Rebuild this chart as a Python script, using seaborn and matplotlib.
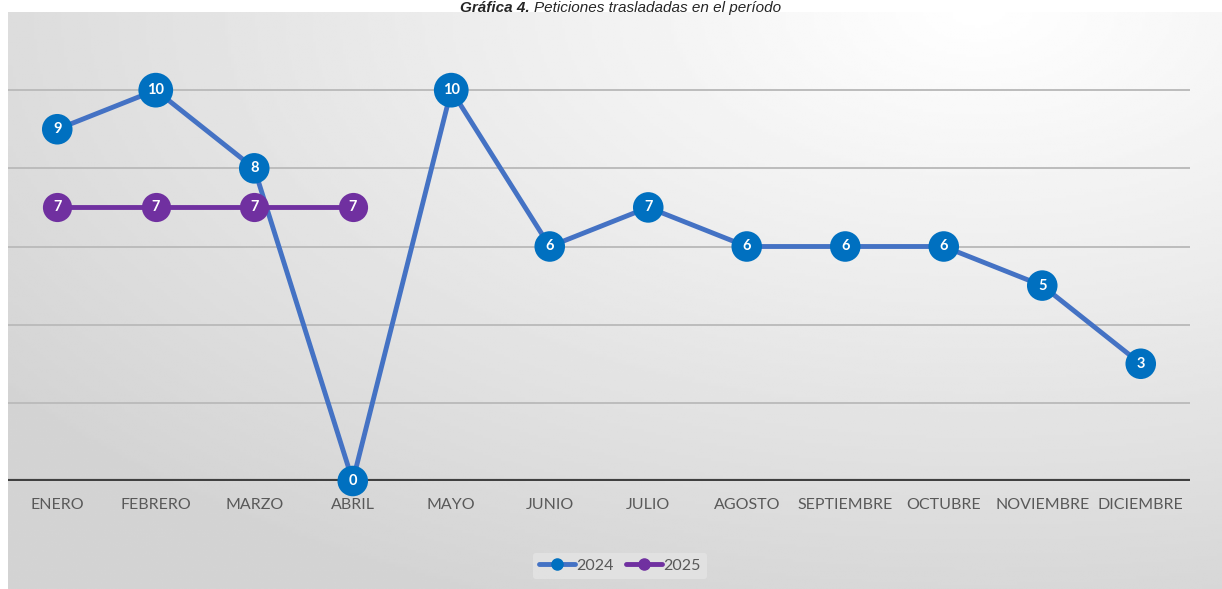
import numpy as np
import matplotlib
matplotlib.use("Agg")
import matplotlib.pyplot as plt
import seaborn as sns
import pandas as pd
from matplotlib.lines import Line2D

months = ["ENERO", "FEBRERO", "MARZO", "ABRIL", "MAYO", "JUNIO", "JULIO",
          "AGOSTO", "SEPTIEMBRE", "OCTUBRE", "NOVIEMBRE", "DICIEMBRE"]
vals_2024 = [9, 10, 8, 0, 10, 6, 7, 6, 6, 6, 5, 3]
vals_2025 = [7, 7, 7, 7]

BLUE_LINE = "#4472C4"
BLUE_MARK = "#0070C0"
PURPLE = "#7030A0"

sns.set_style("white")
plt.rcParams["font.family"] = ["Lato", "DejaVu Sans"]

W, H = 1222, 589
fig = plt.figure(figsize=(W / 100, H / 100), dpi=100)

# gradient background of chart area (light in the top right, grey to the left/bottom)
bg = fig.add_axes([8 / W, 0, 1 - 8 / W, (H - 12) / H])
yy, xx = np.mgrid[0:1:200j, 0:1:400j]
d = np.sqrt((xx - 0.8) ** 2 + ((yy - 0.0) * 0.9) ** 2)
shade = np.clip(1.0 - 0.17 * d, 0.83, 1.0)
bg.imshow(shade, cmap="gray", vmin=0, vmax=1, aspect="auto", extent=[0, 1, 1, 0])
bg.set_axis_off()

ax = fig.add_axes([8 / W, 108 / H, (1190 - 8) / W, (481 - 12) / H])
ax.patch.set_alpha(0)

df24 = pd.DataFrame({"x": range(len(vals_2024)), "y": vals_2024})
df25 = pd.DataFrame({"x": range(len(vals_2025)), "y": vals_2025})

for yv in [2, 4, 6, 8, 10]:
    ax.axhline(yv, color="#bcbcbc", lw=1.4, zorder=0)
ax.axhline(0, color="#404040", lw=3, zorder=1)

sns.lineplot(data=df24, x="x", y="y", ax=ax, color=BLUE_LINE, lw=3.5, zorder=2)
sns.lineplot(data=df25, x="x", y="y", ax=ax, color=PURPLE, lw=3.5, zorder=2)

sizes24 = [25 if v >= 10 else 22 for v in vals_2024]
ax.scatter(df24["x"], df24["y"], s=np.array(sizes24) ** 2, color=BLUE_MARK,
           zorder=3, lw=0, clip_on=False)
ax.scatter(df25["x"], df25["y"], s=21 ** 2, color=PURPLE, zorder=4, lw=0, clip_on=False)

for x, y in zip(df24["x"], df24["y"]):
    ax.text(x, y, str(y), ha="center", va="center", color="white",
            fontsize=10.5, fontweight="bold", zorder=5)
for x, y in zip(df25["x"], df25["y"]):
    ax.text(x, y, str(y), ha="center", va="center", color="white",
            fontsize=10.5, fontweight="bold", zorder=6)

ax.set_xlim(-0.5, 11.5)
ax.set_ylim(0, 12)
ax.set_xticks(range(len(months)))
ax.set_xticklabels(months, color="#595959", fontsize=11.5)
ax.tick_params(axis="x", length=0, pad=12)
ax.set_yticks([])
ax.set_xlabel("")
ax.set_ylabel("")
for s in ax.spines.values():
    s.set_visible(False)

handles = [Line2D([0], [0], color=BLUE_LINE, lw=3.5, marker="o", markersize=8,
                  markerfacecolor=BLUE_MARK, markeredgecolor=BLUE_MARK),
           Line2D([0], [0], color=PURPLE, lw=3.5, marker="o", markersize=8,
                  markerfacecolor=PURPLE, markeredgecolor=PURPLE)]
leg = fig.legend(handles, ["2024", "2025"], loc="center", bbox_to_anchor=(620 / W, 1 - 566 / H),
                 ncol=2, frameon=True, fontsize=11.5, handlelength=2.2, handletextpad=0.1,
                 columnspacing=0.8, borderpad=0.4)
leg.get_frame().set_facecolor("#e4e4e4")
leg.get_frame().set_edgecolor("none")
for t in leg.get_texts():
    t.set_color("#595959")

fig.text(530 / W, 1 - 12 / H, "Gráfica 4.", ha="right", va="baseline",
         fontsize=11, fontweight="bold", style="italic", family="Liberation Sans")
fig.text(534 / W, 1 - 12 / H, "Peticiones trasladadas en el período", ha="left", va="baseline",
         fontsize=11, style="italic", family="Liberation Sans")

fig.savefig("out.png", dpi=100)
